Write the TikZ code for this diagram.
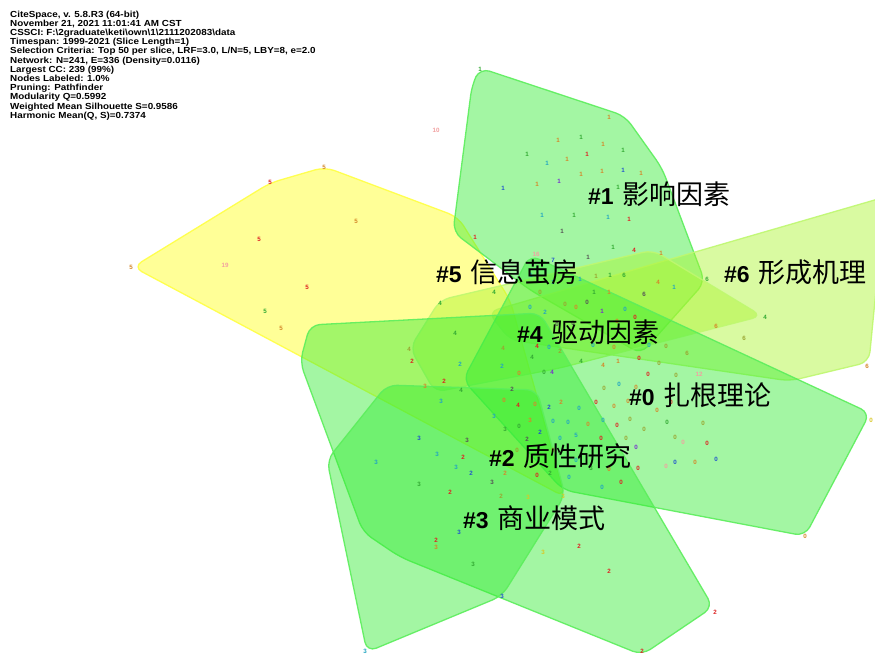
\documentclass[tikz,border=0pt]{standalone}
\usepackage{fontspec}
\setmainfont{Liberation Sans}
\newfontfamily\cjk{Noto Sans CJK SC}
\newfontfamily\infofont[FakeStretch=1.12]{Liberation Sans}

% hull and node colours
\definecolor{hullgreen}{rgb}{0.2,0.93,0.2}
\definecolor{hulledge}{HTML}{5CEE5C}
\definecolor{hullyellow}{rgb}{1,1,0.1}
\definecolor{yellowedge}{HTML}{FFFF44}
\definecolor{hulllime}{rgb}{0.67,0.96,0.19}
\definecolor{limeedge}{HTML}{BFF870}
\definecolor{nr}{HTML}{DD2222}
\definecolor{no}{HTML}{D4882A}
\definecolor{nv}{HTML}{9AA531}
\definecolor{ng}{HTML}{33AA33}
\definecolor{nc}{HTML}{22A6C0}
\definecolor{nb}{HTML}{2255CC}
\definecolor{np}{HTML}{7733CC}
\definecolor{nk}{HTML}{555555}
\definecolor{nn}{HTML}{F2A0A0}
\definecolor{ny}{HTML}{D8C828}

\newcommand{\clab}[2]{{\bfseries\fontsize{23}{25}\selectfont\##1}\hspace{9pt}{\cjk\fontsize{27}{29}\selectfont #2}}

\tikzset{
  hull/.style={fill=hullgreen, fill opacity=0.45, draw=hulledge, draw opacity=0.9,
    line width=1.3pt, rounded corners=10pt},
  yhull/.style={hull, fill=hullyellow, draw=yellowedge},
  lhull/.style={hull, fill=hulllime, draw=limeedge},
  dot/.style={font=\bfseries\fontsize{6.2}{7}\selectfont, inner sep=0pt},
  clabel/.style={anchor=base west, inner sep=0pt},
  info/.style={anchor=base west, inner sep=0pt, font=\infofont\bfseries\fontsize{8.8}{9}\selectfont}
}

\begin{document}
\begin{tikzpicture}[x=1pt, y=-1pt]
  \useasboundingbox (0,0) rectangle (875,656);
  \fill[white] (0,0) rectangle (875,656);
  \clip (0,0) rectangle (875,656);

  % cluster hulls
  \draw[yhull] (133,267) -- (270,183) -- (325,167) -- (458,217) -- (510,300) -- (565,497) -- cycle;
  \draw[hull] (480,68) -- (625,116) -- (662,168) -- (705,282) -- (641,354) -- (530,290) -- (453,232) -- (472,85) -- cycle;
  \draw[lhull] (488,312) -- (885,197) -- (869,362) -- (790,381) -- (510,340) -- cycle;
  \draw[lhull] (410,348) -- (440,300) -- (653,250) -- (762,316) -- (560,368) -- (435,392) -- cycle;
  \draw[hull] (463,380) -- (530,255) -- (870,413) -- (805,536) -- (563,490) -- cycle;
  \draw[hull] (310,325) -- (540,313) -- (713,607) -- (642,655) -- (400,557) -- (363,532) -- (300,362) -- cycle;
  \draw[hull] (327,460) -- (387,385) -- (537,390) -- (565,495) -- (502,596) -- (367,652) -- cycle;

  % nodes
  \foreach \x/\y/\t/\c [count=\i] in {
    324/167/5/no, 270/182/5/nr, 356/221/5/no, 259/239/5/nr, 225/265/19/nn, 131/267/5/no,
    307/287/5/nr, 265/311/5/ng, 281/328/5/no, 436/130/10/nn,
    440/303/4/ng, 409/349/4/nv, 412/361/2/nr, 444/381/2/nr, 425/386/3/no, 455/333/4/ng,
    460/364/2/nc, 461/390/4/ng, 441/401/3/nc, 494/292/4/ng,
    480/69/1/ng, 609/117/1/no, 558/140/1/no, 581/137/1/ng, 603/144/1/no, 623/150/1/ng,
    527/154/1/ng, 547/163/1/nc, 567/159/1/no, 587/154/1/nr, 581/174/1/no, 602/171/1/no,
    623/170/1/nb, 641/173/1/no, 503/188/1/nb, 537/184/1/no, 559/181/1/np, 618/187/1/ng,
    542/215/1/nc, 574/215/1/ng, 608/217/1/nc, 629/219/1/nr, 475/237/1/nr, 562/231/1/nk,
    613/247/1/ng, 634/250/4/nr, 661/253/1/no, 536/254/16/nn, 588/257/1/nk, 553/260/7/nb,
    531/275/1/nc, 553/282/1/nc, 580/279/1/nc, 596/276/1/nv, 610/275/1/ng, 624/275/6/ng,
    658/282/4/no, 674/287/1/nc, 707/279/6/ng, 644/294/6/nk, 594/292/1/ng, 609/292/1/no,
    540/292/0/nv, 565/304/0/nv, 576/307/0/no, 587/302/0/nk, 530/307/0/nc, 545/312/2/nc,
    602/311/1/np, 625/309/0/nc, 617/321/0/no, 635/317/0/nr, 557/324/0/nk, 573/323/0/nk,
    765/317/4/ng, 716/326/6/no, 744/338/6/nv, 503/348/4/nv, 537/346/4/nr, 549/347/0/nc,
    560/351/2/nv, 532/357/4/ng, 581/361/4/ng, 603/365/4/no, 618/361/1/no, 593/345/0/nc,
    614/347/0/no, 649/345/0/nc, 666/346/0/nv, 639/358/0/nr, 687/353/6/nv, 659/363/0/nv,
    648/374/0/nr, 676/375/0/nv, 699/374/12/nn, 867/366/6/no, 502/366/2/nc, 519/373/0/no,
    544/372/0/ng, 552/372/4/np, 512/389/2/nk, 504/400/0/no, 518/405/4/nr, 535/404/0/no,
    549/407/2/nb, 561/402/2/no, 604/388/0/nv, 619/384/0/nc, 636/387/0/no, 596/402/0/nr,
    614/406/0/no, 628/401/0/no, 657/410/0/no, 671/402/0/nr, 579/408/0/nc,
    568/422/0/nc, 603/420/0/nc, 588/424/0/no, 617/425/0/nr, 630/419/0/nv, 644/429/0/nv,
    667/422/0/ng, 703/423/0/nv, 576/435/5/nc, 601/438/0/nr, 626/438/0/nv, 636/447/0/np,
    675/437/0/nv, 683/442/0/nn, 707/443/0/nr, 675/462/0/nb, 695/462/0/no, 716/459/0/nb,
    666/466/0/nn, 609/469/0/no, 638/468/0/nr, 621/482/0/nr, 602/487/0/nc, 569/477/0/nc,
    871/420/0/ny, 805/536/0/no,
    494/416/3/nc, 530/420/3/no, 505/429/3/ng, 519/426/0/ng, 553/421/0/nc, 540/432/2/nb,
    560/438/0/nc, 467/440/3/nk, 527/439/2/nk, 463/457/2/nr, 517/450/0/nv, 553/450/0/nv,
    576/460/0/nc, 456/467/3/nc, 471/473/2/nb, 505/473/2/no, 537/475/0/nr, 550/473/2/ng,
    591/468/3/ng, 492/482/3/nk, 450/492/2/nr, 501/496/2/nv, 528/497/3/ny, 563/496/3/ny,
    419/438/3/nb, 376/462/3/nc, 437/454/3/nc, 419/484/3/ng, 459/532/3/nb, 436/540/2/nr,
    436/547/3/no, 473/564/3/ng, 502/596/3/nb, 365/651/3/nc, 579/546/2/nr, 543/552/3/ny,
    609/571/2/nr, 715/612/2/nr, 642/651/2/nr}
    \node[dot, text=\c] (d\i) at (\x,\y) {\t};

  % cluster labels
  \node[clabel] (c1) at (588,204) {\clab{1}{影响因素}};
  \node[clabel] (c5) at (436,282) {\clab{5}{信息茧房}};
  \node[clabel] (c6) at (724,282) {\clab{6}{形成机理}};
  \node[clabel] (c4) at (517,342) {\clab{4}{驱动因素}};
  \node[clabel] (c0) at (629,405) {\clab{0}{扎根理论}};
  \node[clabel] (c2) at (489,466) {\clab{2}{质性研究}};
  \node[clabel] (c3) at (463,528) {\clab{3}{商业模式}};

  % run summary
  \foreach \t [count=\i] in {
    {CiteSpace, v. 5.8.R3 (64-bit)},
    {November 21, 2021 11:01:41 AM CST},
    {CSSCI: F:\textbackslash 2graduate\textbackslash keti\textbackslash own\textbackslash 1\textbackslash 2111202083\textbackslash data},
    {Timespan: 1999-2021 (Slice Length=1)},
    {Selection Criteria: Top 50 per slice, LRF=3.0, L/N=5, LBY=8, e=2.0},
    {Network: N=241, E=336 (Density=0.0116)},
    {Largest CC: 239 (99\%)},
    {Nodes Labeled: 1.0\%},
    {Pruning: Pathfinder},
    {Modularity Q=0.5992},
    {Weighted Mean Silhouette S=0.9586},
    {Harmonic Mean(Q, S)=0.7374}}
    \node[info] (h\i) at (10,7.8+9.2*\i) {\t};
\end{tikzpicture}
\end{document}
